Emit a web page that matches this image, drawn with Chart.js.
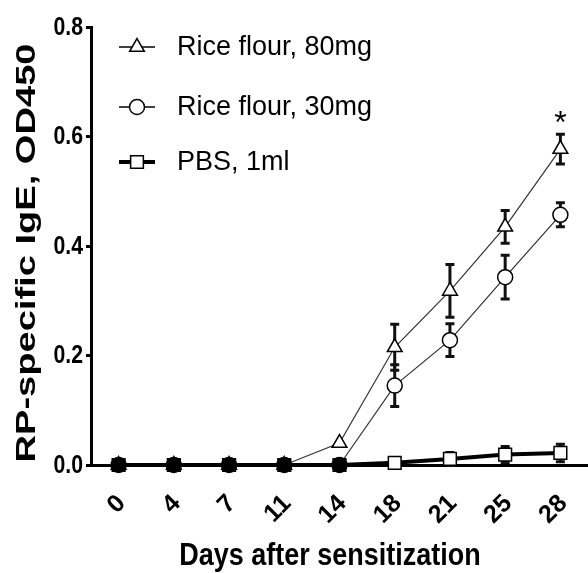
<!DOCTYPE html>
<html>
<head>
<meta charset="utf-8">
<script src="https://cdn.jsdelivr.net/npm/chart.js@4.4.1/dist/chart.umd.min.js"></script>
<style>
  html, body { margin: 0; padding: 0; background: #fff; }
</style>
</head>
<body>
<canvas id="chart" width="588" height="573"></canvas>
<script>
// values (OD450, mean and SEM)
const days = ['0', '4', '7', '11', '14', '18', '21', '25', '28'];
const rice80 = [0, 0, 0, 0, 0.04, 0.215, 0.318, 0.435, 0.577];
const rice80Err = [0, 0, 0, 0, 0, 0.042, 0.048, 0.03, 0.027];
const rice30 = [0, 0, 0, 0, 0, 0.145, 0.228, 0.343, 0.457];
const rice30Err = [0, 0, 0, 0, 0, 0.038, 0.03, 0.04, 0.022];
const pbs = [0, 0, 0, 0, 0, 0.004, 0.011, 0.019, 0.022];
const pbsErr = [0, 0, 0, 0, 0, 0.004, 0.012, 0.015, 0.016];
const seriesNames = ['Rice flour, 80mg', 'Rice flour, 30mg', 'PBS, 1ml'];
const yMin = 0, yMax = 0.8, yStep = 0.2;

const SANS = "'Liberation Sans', Arial, sans-serif";

function series(label, data, errs, style, radius, lineW) {
    return {
        label, data, errs,
        borderColor: lineW > 2 ? '#000' : '#333',
        borderWidth: lineW,
        pointStyle: style,
        pointRadius: radius,
        pointHoverRadius: radius,
        pointBackgroundColor: '#fff',
        pointBorderColor: '#000',
        pointBorderWidth: 1.5,
        tension: 0,
        clip: false
    };
}

/* error bars, drawn under the markers */
const errorBars = {
    id: 'errorBars',
    beforeDatasetsDraw(chart) {
        const { ctx, scales: { y } } = chart;
        ctx.save();
        ctx.strokeStyle = '#111';
        ctx.lineWidth = 3;
        chart.data.datasets.forEach((ds, i) => {
            const meta = chart.getDatasetMeta(i);
            ds.data.forEach((v, j) => {
                const e = ds.errs[j];
                if (!e) return;
                const x = meta.data[j].x;
                const top = y.getPixelForValue(v + e);
                const bot = y.getPixelForValue(v - e);
                ctx.beginPath();
                ctx.moveTo(x, top); ctx.lineTo(x, bot);
                ctx.moveTo(x - 4.5, top); ctx.lineTo(x + 4.5, top);
                ctx.moveTo(x - 4.5, bot); ctx.lineTo(x + 4.5, bot);
                ctx.stroke();
            });
        });
        ctx.restore();
    }
};

/* y tick labels (condensed), legend, axis titles and the star */
const annotations = {
    id: 'annotations',
    afterDraw(chart) {
        const { ctx, scales: { y } } = chart;
        ctx.save();
        ctx.fillStyle = '#000';

        // y tick labels, narrow and tall like the original
        ctx.font = "bold 25px " + SANS;
        ctx.textAlign = 'right';
        ctx.textBaseline = 'middle';
        y.ticks.forEach(t => {
            ctx.save();
            ctx.translate(83, y.getPixelForValue(t.value) + 1);
            ctx.scale(0.85, 1);
            ctx.fillText(t.value.toFixed(1), 0, 0);
            ctx.restore();
        });

        // y title, stretched along its length
        ctx.save();
        ctx.translate(27, 253);
        ctx.rotate(-Math.PI / 2);
        ctx.scale(1.36, 1);
        ctx.font = "bold 28px " + SANS;
        ctx.textAlign = 'center';
        ctx.textBaseline = 'middle';
        ctx.fillText('RP-specific IgE, OD450', 0, 0);
        ctx.restore();

        // x title, condensed
        ctx.save();
        ctx.translate(330, 565);
        ctx.scale(0.87, 1);
        ctx.font = "bold 31px " + SANS;
        ctx.textAlign = 'center';
        ctx.textBaseline = 'alphabetic';
        ctx.fillText('Days after sensitization', 0, 0);
        ctx.restore();

        // star over day 28, 80mg
        const n = rice80.length - 1;
        const last = chart.getDatasetMeta(0).data[n];
        ctx.font = "32px " + SANS;
        ctx.textAlign = 'center';
        ctx.textBaseline = 'alphabetic';
        ctx.fillText('*', last.x, y.getPixelForValue(rice80[n] + rice80Err[n]) - 1);

        // legend rows
        const rows = [47, 107, 162];
        chart.data.datasets.forEach((ds, i) => {
            const ly = rows[i];
            ctx.strokeStyle = '#000';
            ctx.lineWidth = i === 2 ? 4 : 1.5;
            ctx.beginPath();
            ctx.moveTo(119, ly); ctx.lineTo(155, ly);
            ctx.stroke();
            ctx.fillStyle = '#fff';
            ctx.lineWidth = 1.5;
            Chart.helpers.drawPoint(ctx, { pointStyle: ds.pointStyle, radius: ds.pointRadius, rotation: 0, borderWidth: 1.5 }, 137, ly);
            ctx.fillStyle = '#000';
            ctx.font = "27px " + SANS;
            ctx.textAlign = 'left';
            ctx.textBaseline = 'middle';
            ctx.fillText(seriesNames[i], 177, ly + 1);
        });
        ctx.restore();
    }
};

const pbsSet = series(seriesNames[2], pbs, pbsErr, 'rect', 9, 4);
// where all three groups sit on zero the stacked markers read as solid black
pbsSet.pointBackgroundColor = c => (c.raw === 0 ? '#000' : '#fff');
pbsSet.order = -1;

new Chart(document.getElementById('chart'), {
    type: 'line',
    data: {
        labels: days,
        datasets: [
            series(seriesNames[0], rice80, rice80Err, 'triangle', 8.5, 1.2),
            series(seriesNames[1], rice30, rice30Err, 'circle', 7.5, 1.2),
            pbsSet
        ]
    },
    options: {
        responsive: false,
        animation: false,
        events: [],
        layout: { autoPadding: false, padding: { top: 27, right: 0, left: 0, bottom: 0 } },
        plugins: { legend: { display: false }, tooltip: { enabled: false } },
        scales: {
            x: {
                offset: true,
                grid: { display: false },
                border: { display: true, width: 3, color: '#000' },
                ticks: {
                    autoSkip: false, minRotation: 45, maxRotation: 45, padding: 16, labelOffset: 3,
                    color: '#000', font: { family: SANS, size: 25, weight: 'bold' }
                },
                afterFit: s => { s.height = 108; s.paddingLeft = 0; s.paddingRight = 0; }
            },
            y: {
                min: yMin, max: yMax,
                grid: { drawOnChartArea: false, drawTicks: true, tickLength: 5, tickWidth: 3, tickColor: '#000' },
                border: { display: true, width: 3, color: '#000' },
                ticks: { stepSize: yStep, display: false },
                afterFit: s => { s.width = 91; }
            }
        }
    },
    plugins: [errorBars, annotations]
});
</script>
</body>
</html>
